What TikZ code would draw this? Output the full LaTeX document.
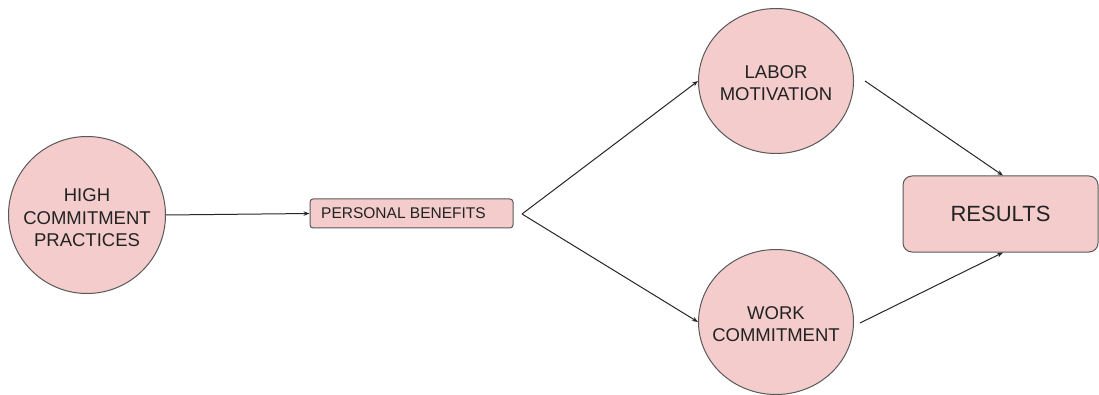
\documentclass[tikz,border=0pt]{standalone}
\usepackage{fontspec}
\setmainfont{Liberation Sans}
\usetikzlibrary{shapes.geometric,arrows.meta}
\definecolor{pinkfill}{HTML}{F4CCCC}
\definecolor{edgegray}{HTML}{595959}
\definecolor{txt}{HTML}{222222}
\tikzset{
  circ/.style={ellipse, draw=edgegray, fill=pinkfill, line width=1pt, inner sep=0pt},
  ctext/.style={align=center, text=txt, inner sep=0pt, font=\fontsize{18.5}{22.5}\selectfont},
  rbox/.style={rectangle, rounded corners=#1, draw=edgegray, fill=pinkfill, line width=1pt, inner sep=0pt, text=txt},
  conn/.style={draw=black!85, line width=1pt, -{Stealth[length=6pt,width=4.5pt]}},
}
\begin{document}
\begin{tikzpicture}[x=1pt,y=-1pt]
\useasboundingbox (0,0) rectangle (1099,395);
\node[circ, minimum width=157pt, minimum height=157pt] (hcp) at (87,215) {};
\node[ctext] (hcpt) at (87,218) {HIGH\\COMMITMENT\\PRACTICES};
\node[rbox=3pt, minimum width=203pt, minimum height=29pt] (pb) at (411.5,213.5) {};
\node[anchor=west, font=\fontsize{15.5}{18}\selectfont, text=txt, inner sep=0pt] (pbt) at (321,213.5) {PERSONAL BENEFITS};
\node[circ, minimum width=155pt, minimum height=145pt] (lm) at (776,81) {};
\node[ctext] (lmt) at (776,83) {LABOR\\MOTIVATION};
\node[circ, minimum width=155pt, minimum height=145pt] (wc) at (776,322) {};
\node[ctext] (wct) at (776,324) {WORK\\COMMITMENT};
\node[rbox=9pt, minimum width=195pt, minimum height=76pt, font=\fontsize{22}{26}\selectfont] (res) at (1000.5,214) {RESULTS};
\coordinate (fan) at (522,214);
\coordinate (lmout) at ([xshift=11pt]lm.east);
\coordinate (wcout) at ([xshift=6pt,yshift=-1pt]wc.east);
\draw[conn] (hcp.east) -- (pb.west);
\draw[conn] (fan) -- (lm.west);
\draw[conn] (fan) -- (wc.west);
\draw[conn] (lmout) -- ([xshift=2.5pt]res.north);
\draw[conn] (wcout) -- ([xshift=2.5pt]res.south);
\end{tikzpicture}
\end{document}
